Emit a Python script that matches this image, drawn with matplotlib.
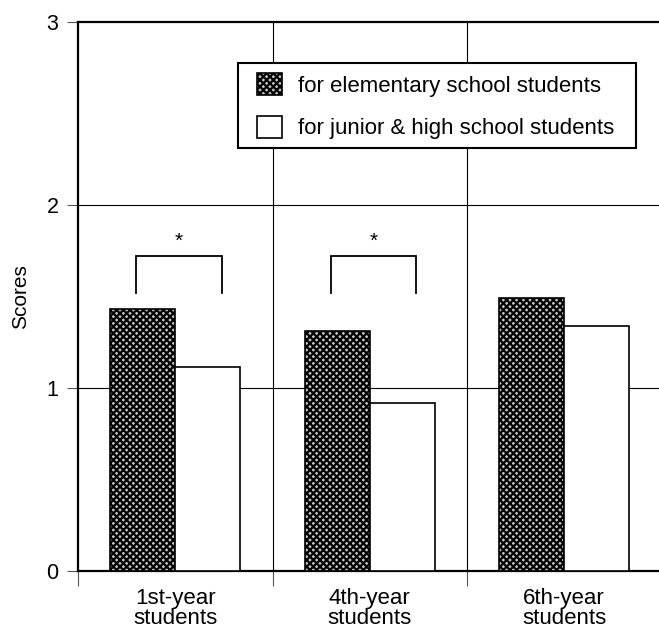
import matplotlib
matplotlib.use("Agg")
import matplotlib.pyplot as plt
from matplotlib.patches import Rectangle
import matplotlib.transforms as mtransforms
import numpy as np

categories = ["1st-year\nstudents", "4th-year\nstudents", "6th-year\nstudents"]
elementary = [1.43, 1.31, 1.49]
junior_high = [1.115, 0.92, 1.34]
series_labels = ["for elementary school students", "for junior & high school students"]
sig_pairs = [0, 1]  # categories with significant difference
yticks = [0, 1, 2, 3]

plt.rcParams['font.family'] = ['Liberation Sans', 'DejaVu Sans']
plt.rcParams['hatch.linewidth'] = 1.6

W, H = 659, 630
fig = plt.figure(figsize=(W/100, H/100), dpi=100)
ax = fig.add_axes([78/W, 59/H, 583.5/W, 549/H])

x = np.arange(len(categories))
w = 0.335
b1 = ax.bar(x - w/2, elementary, w, facecolor='#c8c8c8', edgecolor='black',
            hatch='xxxxx', linewidth=1.2, label=series_labels[0], zorder=3)
b2 = ax.bar(x + w/2, junior_high, w, facecolor='white', edgecolor='black',
            linewidth=1.2, label=series_labels[1], zorder=3)

ax.set_xlim(-0.5, 2.5)
ax.set_ylim(0, 3)

# grid
for yv in [1, 2]:
    ax.axhline(yv, color='black', linewidth=0.8, zorder=1)
for xv in [0.5, 1.5]:
    ax.axvline(xv, color='black', linewidth=0.8, zorder=1)

ax.set_yticks(yticks)
ax.set_yticklabels([str(v) for v in yticks], fontsize=15.5)
ax.tick_params(axis='y', length=8, width=0.8, color='#555555', pad=6)

ax.set_xticks([-0.5, 0.5, 1.5])
ax.set_xticklabels([])
ax.tick_params(axis='x', which='major', length=11, width=0.8, color='#555555')

# category labels
trans = mtransforms.blended_transform_factory(ax.transData, ax.transAxes)
for xi, lab in zip(x, categories):
    ax.text(xi, -17/549, lab, transform=trans, ha='center', va='top',
            fontsize=16, linespacing=0.93, clip_on=False)

for s in ['left', 'bottom', 'top']:
    ax.spines[s].set_linewidth(1.6)
ax.spines['right'].set_visible(False)

ax.set_ylabel("Scores", fontsize=15, labelpad=12)

# significance brackets
for i in sig_pairs:
    xl = i - 0.20
    xr = i + 0.24
    ax.plot([xl, xl, xr, xr], [1.52, 1.72, 1.72, 1.52], color='black', linewidth=1.3,
            zorder=4, solid_joinstyle='miter')
    ax.text((xl + xr) / 2, 1.75, "*", ha='center', va='bottom', fontsize=15)

# legend frame
frame = Rectangle((238/W, 1 - 148/H), (636 - 238)/W, (148 - 63)/H,
                  transform=fig.transFigure, facecolor='white', edgecolor='black',
                  linewidth=1.5, zorder=5, clip_on=False)
ax.add_artist(frame)

leg = ax.legend(loc='upper left', bbox_to_anchor=(257/W, 1 - 73/H),
                bbox_transform=fig.transFigure, fontsize=16, frameon=False,
                handlelength=1.12, handleheight=1.15, handletextpad=0.72,
                borderpad=0, labelspacing=0.86, borderaxespad=0)
leg.set_zorder(6)

fig.savefig("out.png", dpi=100)
